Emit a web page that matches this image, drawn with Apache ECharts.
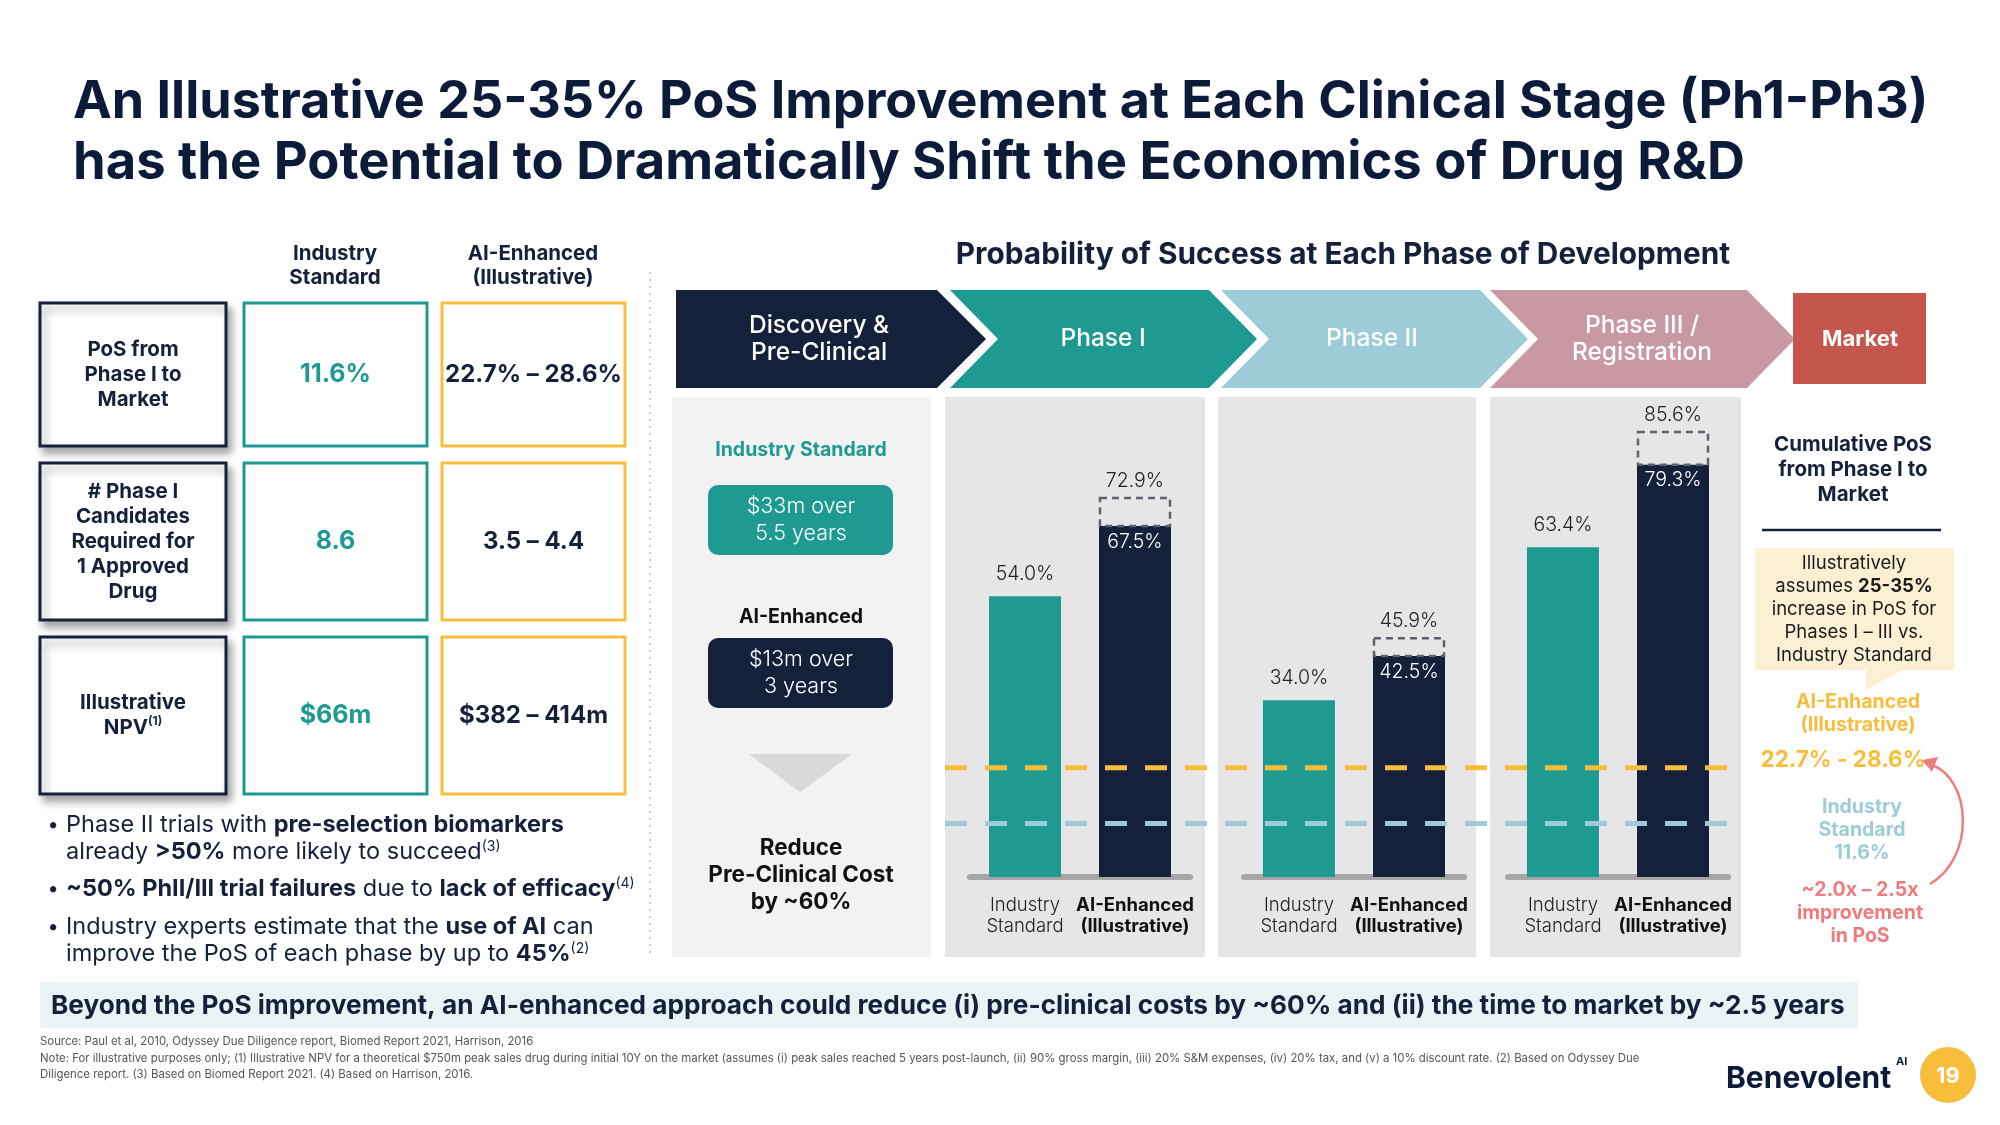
<!DOCTYPE html>
<html><head><meta charset="utf-8">
<script src="https://cdn.jsdelivr.net/npm/echarts@6/dist/echarts.min.js"></script>
<style>html,body{margin:0;padding:0;background:#fff}#c{width:2000px;height:1125px}</style>
</head><body><div id="c"></div>
<script>
// ---------- DATA ----------
const titleLines = ['An Illustrative 25-35% PoS Improvement at Each Clinical Stage (Ph1-Ph3)', 'has the Potential to Dramatically Shift the Economics of Drug R&D'];
const stageNames = ['Discovery &\nPre-Clinical', 'Phase I', 'Phase II', 'Phase III /\nRegistration', 'Market'];
const barCategories = ['Industry\nStandard', 'AI-Enhanced\n(Illustrative)'];
const industryPoS = [54.0, 34.0, 63.4];
const aiPoSLow = [67.5, 42.5, 79.3];
const aiPoSHigh = [72.9, 45.9, 85.6];
const cumulativeAILine = 21.0;        // drawn level of AI-enhanced cumulative band
const cumulativeIndustryLine = 10.3;  // drawn level of industry cumulative line
const tableHeaders = ['Industry\nStandard', 'AI-Enhanced\n(Illustrative)'];
const tableRowLabels = ['PoS from\nPhase I to\nMarket', '# Phase I\nCandidates\nRequired for\n1 Approved\nDrug', 'Illustrative\nNPV{s|(1)}'];
const tableIndustry = ['11.6%', '8.6', '$66m'];
const tableAI = ['22.7% – 28.6%', '3.5 – 4.4', '$382 – 414m'];
const preClinical = {std: '$33m over\n5.5 years', ai: '$13m over\n3 years', note: 'Reduce\nPre-Clinical Cost\nby ~60%'};

// ---------- STYLE ----------
const FONT = "Inter, 'Open Sans', sans-serif";
const NAVY = '#15213b', TEAL = '#1f9a93', AMBER = '#f9bd3c', LBLUE = '#9dccd8',
      PINK = '#c898a4', RED = '#c4564e', SALMON = '#ee7b7e';

function T(x, y, text, s) {
  return {type: 'text', x: x, y: y, z: 20, silent: true, style: Object.assign({
    text: text, fill: NAVY, fontFamily: FONT, fontSize: 20, fontWeight: 'normal',
    align: 'center', verticalAlign: 'middle'}, s || {})};
}
function R(x, y, w, h, s, extra) {
  return Object.assign({type: 'rect', z: 1, silent: true, shape: {x: x, y: y, width: w, height: h, r: (s && s.r) || 0},
    style: Object.assign({fill: '#fff'}, s || {})}, extra || {});
}
function P(points, color) {
  return {type: 'polygon', z: 2, silent: true, shape: {points: points}, style: {fill: color}};
}

const g = [];
// title
g.push(T(73, 102, titleLines[0], {align: 'left', fontSize: 52, fontWeight: 'bold', fill: '#0d1b3a'}));
g.push(T(73, 163, titleLines[1], {align: 'left', fontSize: 52.5, fontWeight: 'bold', fill: '#0d1b3a'}));

// left table
const colX = [40, 244, 442], colW = [186, 183, 183];
const rowY = [[303, 446], [463, 620], [637, 794]];
g.push(T(335, 266, tableHeaders[0], {fontSize: 20.5, fontWeight: 'bold', lineHeight: 24}));
g.push(T(533, 266, tableHeaders[1], {fontSize: 20.5, fontWeight: 'bold', lineHeight: 24}));
rowY.forEach(function (r, i) {
  const h = r[1] - r[0], cy = (r[0] + r[1]) / 2;
  g.push(R(colX[0], r[0], colW[0], h, {fill: '#fff', stroke: NAVY, lineWidth: 3,
    shadowBlur: 8, shadowOffsetX: 4, shadowOffsetY: 6, shadowColor: 'rgba(0,0,0,0.35)'}));
  g.push(R(colX[1], r[0], colW[1], h, {fill: '#fff', stroke: TEAL, lineWidth: 3}));
  g.push(R(colX[2], r[0], colW[2], h, {fill: '#fff', stroke: AMBER, lineWidth: 3}));
  g.push(T(colX[0] + colW[0] / 2, cy, tableRowLabels[i], {fontSize: 20.5, fontWeight: 'bold', lineHeight: 25,
    rich: {s: {fontSize: 12, fontWeight: 'bold', fill: NAVY, verticalAlign: 'top', fontFamily: FONT}}}));
  g.push(T(colX[1] + colW[1] / 2, cy, tableIndustry[i], {fontSize: 25, fontWeight: 'bold', fill: TEAL}));
  g.push(T(colX[2] + colW[2] / 2, cy, tableAI[i], {fontSize: 24, fontWeight: 'bold', fill: NAVY}));
});
// bullets
const bulletRich = {b: {fontWeight: 'bold', fontSize: 23.5, fontFamily: FONT, fill: NAVY},
  s: {fontSize: 14, fontFamily: FONT, fill: NAVY, verticalAlign: 'top'}};
const bulletLines = [
  [825, true, 'Phase II trials with {b|pre-selection biomarkers}'],
  [852, false, 'already {b|>50%} more likely to succeed{s|(3)}'],
  [889, true, '{b|~50% PhII/III trial failures} due to {b|lack of efficacy}{s|(4)}'],
  [927, true, 'Industry experts estimate that the {b|use of AI} can'],
  [954, false, 'improve the PoS of each phase by up to {b|45%}{s|(2)}']
];
bulletLines.forEach(function (l) {
  if (l[1]) g.push(T(53, l[0], '•', {fontSize: 20}));
  g.push(T(66, l[0], l[2], {align: 'left', fontSize: 23.5, rich: bulletRich}));
});
// dotted separator
g.push({type: 'line', z: 1, silent: true, shape: {x1: 650, y1: 272, x2: 650, y2: 957},
  style: {stroke: '#b9cfd7', lineWidth: 2, lineDash: [2, 5]}});

// right chart title
g.push(T(1343, 255, 'Probability of Success at Each Phase of Development', {fontSize: 29.8, fontWeight: 'bold'}));

// chevrons
const y0 = 290, y1 = 388, ym = 339;
g.push(P([[676, y0], [937, y0], [986, ym], [937, y1], [676, y1]], NAVY));
const chev = [[950, 1209, TEAL], [1221, 1480, LBLUE], [1490, 1747, PINK]];
chev.forEach(function (c) {
  g.push(P([[c[0], y0], [c[1], y0], [c[1] + 48, ym], [c[1], y1], [c[0], y1], [c[0] + 48, ym]], c[2]));
});
g.push(R(1793, 293, 133, 91, {fill: RED}, {z: 2}));
const stageX = [819, 1103, 1372, 1642, 1860];
stageNames.forEach(function (n, i) {
  g.push(T(stageX[i], ym, n, {fontSize: i === 4 ? 22 : 24.5, fontWeight: i === 4 ? 'bold' : 500, fill: '#fff', lineHeight: 27}));
});

// panels
g.push(R(672, 397, 259, 560, {fill: '#f2f2f2'}, {z: -1}));
[[945, 260], [1218, 258], [1490, 251]].forEach(function (p) {
  g.push(R(p[0], 397, p[1], 560, {fill: '#e6e6e6'}, {z: -1}));
});

// pre-clinical panel content
g.push(T(801, 450, 'Industry Standard', {fontSize: 19.5, fontWeight: 'bold', fill: TEAL}));
g.push(R(708, 485, 185, 70, {fill: TEAL, r: 10}, {z: 2}));
g.push(T(801, 520, preClinical.std, {fontSize: 21.5, fontWeight: 300, fill: '#fff', lineHeight: 27}));
g.push(T(801, 617, 'AI-Enhanced', {fontSize: 19.5, fontWeight: 'bold', fill: '#111'}));
g.push(R(708, 638, 185, 70, {fill: NAVY, r: 10}, {z: 2}));
g.push(T(801, 673, preClinical.ai, {fontSize: 21.5, fontWeight: 300, fill: '#fff', lineHeight: 27}));
g.push(P([[749, 754], [852, 754], [800, 792]], '#d9d9d9'));
g.push(T(801, 875, preClinical.note, {fontSize: 22.5, fontWeight: 'bold', fill: '#111', lineHeight: 27}));

// right sidebar
g.push(T(1853, 470, 'Cumulative PoS\nfrom Phase I to\nMarket', {fontSize: 20.5, fontWeight: 'bold', lineHeight: 25}));
g.push({type: 'line', z: 2, silent: true, shape: {x1: 1762, y1: 530, x2: 1941, y2: 530}, style: {stroke: NAVY, lineWidth: 2.5}});
g.push(R(1755, 548, 199, 122, {fill: '#fdf0d2'}, {z: 1}));
g.push(P([[1866, 668], [1905, 668], [1866, 690]], '#fdf0d2'));
g.push(T(1854, 609, 'Illustratively\nassumes {b|25-35%}\nincrease in PoS for\nPhases I – III vs.\nIndustry Standard',
  {fontSize: 18.5, lineHeight: 23, fill: '#1a1a1a', rich: {b: {fontWeight: 'bold', fontSize: 18.5, fontFamily: FONT, fill: '#1a1a1a'}}}));
g.push(T(1858, 714, 'AI-Enhanced\n(Illustrative)', {fontSize: 19.5, fontWeight: 'bold', fill: AMBER, lineHeight: 23}));
g.push(T(1843, 760, '22.7% - 28.6%', {fontSize: 22.5, fontWeight: 'bold', fill: AMBER}));
g.push(T(1862, 830, 'Industry\nStandard\n11.6%', {fontSize: 19.5, fontWeight: 'bold', fill: LBLUE, lineHeight: 23}));
g.push(T(1860, 913, '~2.0x – 2.5x\nimprovement\nin PoS', {fontSize: 19.5, fontWeight: 'bold', fill: SALMON, lineHeight: 23}));
g.push({type: 'bezierCurve', z: 3, silent: true,
  shape: {x1: 1930, y1: 884, cpx1: 1975, cpy1: 858, cpx2: 1972, cpy2: 780, x2: 1932, y2: 765},
  style: {stroke: SALMON, lineWidth: 2.5, fill: 'none'}});
g.push(P([[1922, 760], [1938, 757], [1932, 772]], SALMON));

// bottom banner
g.push(R(40, 982, 1818, 46, {fill: '#e9f2f5'}, {z: 0}));
g.push(T(51, 1006, 'Beyond the PoS improvement, an AI-enhanced approach could reduce (i) pre-clinical costs by ~60% and (ii) the time to market by ~2.5 years',
  {align: 'left', fontSize: 26.2, fontWeight: 'bold'}));
// footnotes
const fn = {align: 'left', fontSize: 11.4, fill: '#555'};
g.push(T(40, 1042, 'Source: Paul et al, 2010, Odyssey Due Diligence report, Biomed Report 2021, Harrison, 2016', fn));
g.push(T(40, 1059, 'Note: For illustrative purposes only; (1) Illustrative NPV for a theoretical $750m peak sales drug during initial 10Y on the market (assumes (i) peak sales reached 5 years post-launch, (ii) 90% gross margin, (iii) 20% S&M expenses, (iv) 20% tax, and (v) a 10% discount rate. (2) Based on Odyssey Due', fn));
g.push(T(40, 1075, 'Diligence report. (3) Based on Biomed Report 2021. (4) Based on Harrison, 2016.', fn));
// logo
g.push(T(1726, 1079, 'Benevolent', {align: 'left', fontSize: 30, fontWeight: 'bold', fill: '#0d1b3a'}));
g.push(T(1896, 1062, 'AI', {align: 'left', fontSize: 11, fontWeight: 'bold', fill: '#0d1b3a'}));
g.push({type: 'circle', z: 2, silent: true, shape: {cx: 1948, cy: 1075, r: 28}, style: {fill: AMBER}});
g.push(T(1948, 1076, '19', {fontSize: 22, fontWeight: 'bold', fill: '#fff'}));

// ---------- CHART ----------
const gridLefts = [970, 1244, 1508];
const grids = [], xAxes = [], yAxes = [], series = [];
const axisTop = 357, axisH = 520;
gridLefts.forEach(function (left, i) {
  grids.push({left: left, top: axisTop, width: 220, height: axisH, containLabel: false, outerBoundsMode: 'none'});
  xAxes.push({type: 'category', gridIndex: i, data: barCategories,
    axisLine: {lineStyle: {color: '#a6a6a6', width: 6}}, axisTick: {show: false},
    axisLabel: {interval: 0, margin: 18, formatter: function (v, idx) {
      return v.split('\n').map(function (l) { return '{' + (idx ? 'b' : 'n') + '|' + l + '}'; }).join('\n');
    }, rich: {
      n: {fontFamily: FONT, fontSize: 18.5, fontWeight: 300, color: '#222', lineHeight: 21},
      b: {fontFamily: FONT, fontSize: 18.5, fontWeight: 'bold', color: '#111', lineHeight: 21}}}});
  yAxes.push({type: 'value', gridIndex: i, min: 0, max: 100, show: false, splitLine: {show: false}});
  series.push({type: 'bar', xAxisIndex: i, yAxisIndex: i, barWidth: 72, z: 2,
    label: {show: true, fontFamily: FONT, fontSize: 19.5, fontWeight: 300,
      formatter: function (p) { return p.value.toFixed(1) + '%'; }},
    data: [
      {value: industryPoS[i], itemStyle: {color: TEAL}, label: {position: 'top', distance: 12, color: '#222'}},
      {value: aiPoSLow[i], itemStyle: {color: NAVY}, label: {position: 'insideTop', distance: 6, color: '#fff'}}
    ]});
  series.push({type: 'custom', xAxisIndex: i, yAxisIndex: i, z: 4, silent: true,
    data: [[1, aiPoSLow[i], aiPoSHigh[i]]], encode: {x: 0, y: [1, 2]},
    renderItem: function (params, api) {
      const lo = api.coord([api.value(0), api.value(1)]);
      const hi = api.coord([api.value(0), api.value(2)]);
      const w = api.size([1, 0])[0] * 0.655;
      return {type: 'group', children: [
        {type: 'rect', shape: {x: lo[0] - w / 2 + 1, y: hi[1], width: w - 2, height: lo[1] - hi[1]},
          style: {fill: 'rgba(255,255,255,0)', stroke: '#5d6270', lineWidth: 2.5, lineDash: [7, 5]}},
        {type: 'text', x: lo[0], y: hi[1] - 17, style: {text: api.value(2).toFixed(1) + '%', fill: '#222',
          fontFamily: FONT, fontSize: 19.5, fontWeight: 300, align: 'center', verticalAlign: 'middle'}}
      ]};
    }});
});
// reference dashed lines across phases
grids.push({left: 945, top: axisTop, width: 796, height: axisH, containLabel: false, outerBoundsMode: 'none'});
xAxes.push({type: 'value', gridIndex: 3, min: 0, max: 1, show: false, splitLine: {show: false}});
yAxes.push({type: 'value', gridIndex: 3, min: 0, max: 100, show: false, splitLine: {show: false}});
[[cumulativeAILine, AMBER], [cumulativeIndustryLine, LBLUE]].forEach(function (r) {
  series.push({type: 'line', xAxisIndex: 3, yAxisIndex: 3, z: 5, silent: true, symbol: 'none',
    data: [[0, r[0]], [1, r[0]]], lineStyle: {color: r[1], width: 5, type: [22, 18]}});
});

const chart = echarts.init(document.getElementById('c'));
chart.setOption({animation: false, backgroundColor: '#fff', grid: grids, xAxis: xAxes, yAxis: yAxes,
  series: series, graphic: g});
</script></body></html>
